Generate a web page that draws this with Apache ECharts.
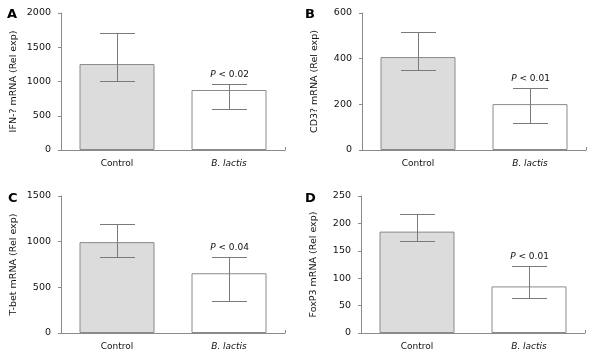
<!DOCTYPE html>
<html>
<head>
<meta charset="utf-8">
<script src="https://cdn.jsdelivr.net/npm/echarts@6/dist/echarts.min.js"></script>
<style>
html,body{margin:0;padding:0;background:#fff;}
#c{width:591px;height:358px;}
</style>
</head>
<body>
<div id="c"></div>
<script>
const categories = ['Control', 'B. lactis'];
const panelLetters = ['A', 'B', 'C', 'D'];
const yNames = ['IFN-? mRNA (Rel exp)', 'CD3? mRNA (Rel exp)', 'T-bet mRNA (Rel exp)', 'FoxP3 mRNA (Rel exp)'];
const yMax = [2000, 600, 1500, 250];
const yInterval = [500, 200, 500, 50];
const meansA = [1255, 876];
const errLowA = [1012, 594];
const errHighA = [1712, 964];
const meansB = [407, 201];
const errLowB = [350, 117];
const errHighB = [518, 271];
const meansC = [995, 654];
const errLowC = [835, 355];
const errHighC = [1188, 835];
const meansD = [185, 85];
const errLowD = [167, 64];
const errHighD = [217, 123];
const pLabels = ['P < 0.02', 'P < 0.01', 'P < 0.04', 'P < 0.01'];

const means = [meansA, meansB, meansC, meansD];
const lows = [errLowA, errLowB, errLowC, errLowD];
const highs = [errHighA, errHighB, errHighC, errHighD];

const FONT = 'DejaVu Sans';
const gridPos = [
  {left: 61, top: 13, width: 224, height: 137},
  {left: 362, top: 13, width: 224, height: 137},
  {left: 61, top: 196, width: 224, height: 137},
  {left: 361, top: 196, width: 224, height: 137}
];
const letterPos = [[7, 8], [305, 8], [8, 192], [305, 192]];
const barFill = ['#dcdcdc', '#ffffff'];
const axisColor = '#8a8a8a';

const grids = [], xAxes = [], yAxes = [], series = [], titles = [];
for (let i = 0; i < 4; i++) {
  grids.push(Object.assign({containLabel: false}, gridPos[i]));
  titles.push({
    text: panelLetters[i], left: letterPos[i][0], top: letterPos[i][1], padding: 0,
    textStyle: {fontFamily: FONT, fontWeight: 'bold', fontSize: 13, color: '#000'}
  });
  xAxes.push({
    type: 'category', gridIndex: i, data: categories,
    axisLine: {lineStyle: {color: axisColor, width: 1}},
    axisTick: {show: true, inside: true, length: 3, lineStyle: {color: axisColor},
      interval: (idx) => idx === 1},
    axisLabel: {
      margin: 9, fontFamily: FONT, fontSize: 9, color: '#111',
      formatter: v => v === 'B. lactis' ? '{i|' + v + '}' : v,
      rich: {i: {fontStyle: 'italic', fontFamily: FONT, fontSize: 9, color: '#111'}}
    }
  });
  yAxes.push({
    type: 'value', gridIndex: i, min: 0, max: yMax[i], interval: yInterval[i],
    name: yNames[i], nameLocation: 'middle', nameGap: 42,
    nameTextStyle: {fontFamily: FONT, fontSize: 9.5, color: '#111'},
    axisLine: {show: true, lineStyle: {color: axisColor, width: 1}},
    axisTick: {show: true, length: 3, lineStyle: {color: axisColor}},
    axisLabel: {margin: 10, fontFamily: FONT, fontSize: 9.5, color: '#111',
      formatter: v => String(v)},
    splitLine: {show: false}
  });
  series.push({
    type: 'bar', xAxisIndex: i, yAxisIndex: i, barWidth: 75,
    data: means[i].map((v, k) => ({value: v, itemStyle: {color: barFill[k]}})),
    itemStyle: {borderColor: '#8a8a8a', borderWidth: 1},
    silent: true, animation: false
  });
  const errData = categories.map((c, k) => [k, lows[i][k], highs[i][k], k === 1 ? pLabels[i] : '']);
  series.push({
    type: 'custom', xAxisIndex: i, yAxisIndex: i, data: errData, z: 5,
    encode: {x: 0, y: [1, 2]},
    animation: false, silent: true,
    renderItem: function (params, api) {
      const x = api.value(0);
      const lo = api.coord([x, api.value(1)]);
      const hi = api.coord([x, api.value(2)]);
      const cx = Math.round(lo[0]) + 0.5;
      const ylo = Math.round(lo[1]) + 0.5, yhi = Math.round(hi[1]) + 0.5;
      const hw = 17.5;
      const st = {stroke: '#7a7a7a', lineWidth: 1};
      const children = [
        {type: 'line', shape: {x1: cx, y1: ylo, x2: cx, y2: yhi}, style: st},
        {type: 'line', shape: {x1: cx - hw, y1: ylo, x2: cx + hw, y2: ylo}, style: st},
        {type: 'line', shape: {x1: cx - hw, y1: yhi, x2: cx + hw, y2: yhi}, style: st}
      ];
      const lbl = api.value(3);
      if (lbl) {
        children.push({
          type: 'text',
          style: {
            text: '{i|P}' + lbl.slice(1),
            x: cx, y: yhi - 5, align: 'center', verticalAlign: 'bottom',
            fontFamily: FONT, fontSize: 9, fill: '#111',
            rich: {i: {fontStyle: 'italic', fontFamily: FONT, fontSize: 9, color: '#111'}}
          }
        });
      }
      return {type: 'group', children: children};
    }
  });
}

const chart = echarts.init(document.getElementById('c'), null, {renderer: 'canvas'});
chart.setOption({
  backgroundColor: '#fff',
  animation: false,
  title: titles,
  grid: grids,
  xAxis: xAxes,
  yAxis: yAxes,
  series: series
});
</script>
</body>
</html>
